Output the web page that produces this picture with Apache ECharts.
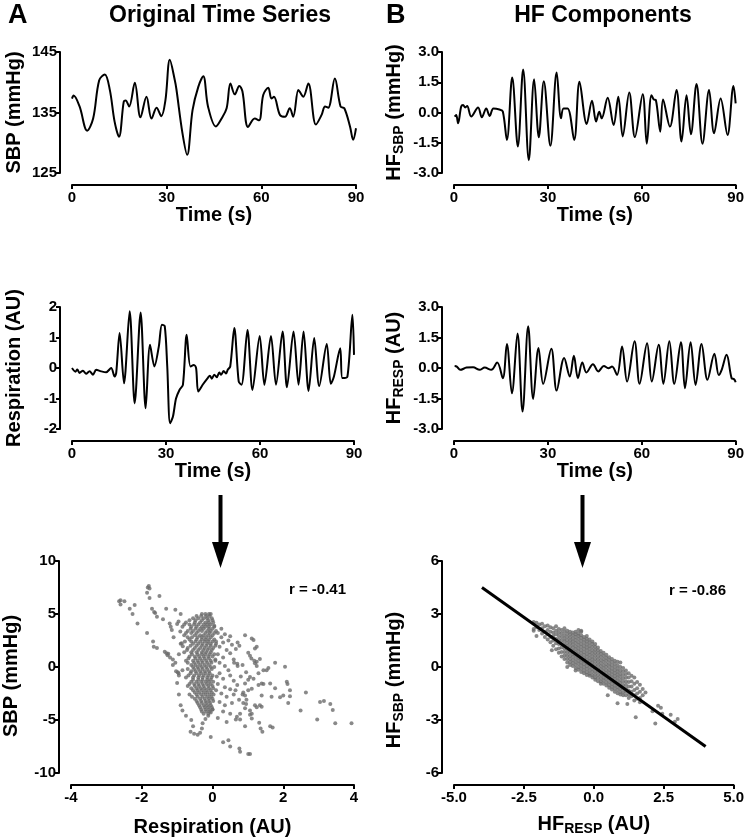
<!DOCTYPE html>
<html>
<head>
<meta charset="utf-8">
<script src="https://cdn.jsdelivr.net/npm/echarts@6/dist/echarts.min.js"></script>
<style>
html, body { margin: 0; padding: 0; background: #fff; }
#chart { width: 747px; height: 840px; }
</style>
</head>
<body>
<div id="chart"></div>
<script>
// time series, [time (s), value]
const sbpSeries = [
  [0,137.3],[0.5,137.8],[2.4,136],[4.8,132],[6.7,134],[8.6,140.3],[10.4,141.3],[12,138.7],[13.5,133.5],
  [14.9,131],[16.4,136.8],[17,137],[18.1,136],[19.9,139.9],[21.7,134.2],[23.6,137.6],[25.2,134],
  [26.8,135.8],[28.3,134.4],[29.6,137],[31,143.7],[32.6,140.3],[33.1,138.8],[35,131.6],[36.5,128],
  [38.2,135.4],[40,139.2],[41.6,141],[43.1,136],[45.6,132.7],[47.4,134],[49,135.7],[50.2,139.8],
  [51.6,138],[53,139.4],[54,138.5],[55.8,132.6],[57.9,134],[59.3,133.7],[60.6,137.9],[62.2,139.1],
  [63.2,137.3],[64,137.6],[65.9,134.6],[67.5,134.3],[69,135.7],[70.1,134.3],[71.7,138.7],[72.2,138.4],
  [73.3,137.6],[74.9,139.8],[77.3,133],[79.1,134.6],[80.2,136],[81.2,135.8],[83.3,140.6],[85.1,136],
  [86.3,135.7],[88.1,132.7],[89.1,130.5],[90,132.4]
]
const hfSbpSeries = [
  [0.2,-0.2],[0.7,-0.12],[1.3,-0.53],[2.3,0.3],[2.9,0.37],[3.6,0.25],[4.2,0.32],[5.5,-0.2],[7.7,0.25],
  [8.9,-0.24],[10.3,0.2],[11.4,-0.17],[12.6,0.2],[14.5,0.15],[15.6,0.05],[16.9,-1.36],[18.6,1.73],
  [20.4,-1.68],[22.1,2.13],[23.9,-2.37],[25.6,1.65],[27.1,-1.23],[28.7,1.55],[30.8,-1.65],[32.8,1.98],
  [34.2,-0.29],[35,0.2],[36.3,0.2],[38.4,-1.36],[40.1,1.52],[42.4,-0.57],[44.1,0.58],[45.4,-0.45],
  [46.4,0.04],[47.2,-0.29],[49.1,0.73],[51,-0.62],[52.5,0.78],[53.9,-1.19],[56,0.99],[57.8,-1.22],
  [60.3,0.91],[61.6,-1.55],[63.1,0.86],[63.8,0.65],[64.5,0.62],[65.9,-0.95],[66.8,0.65],[69,-0.7],
  [71.1,1.11],[72.7,-1.44],[74.3,0.86],[75.7,-1.08],[77.5,1.41],[79.4,-1.55],[81.5,1.11],[83.1,-1.03],
  [85.2,0.7],[87.4,-1.11],[89.3,1.32],[90,0.45]
]
const respSeries = [
  [0,0],[1.1,-0.12],[1.7,-0.05],[2.4,-0.16],[3.5,-0.09],[4.5,-0.19],[5.6,-0.11],[6.7,-0.22],[7.7,-0.06],
  [9.3,-0.11],[10.9,-0.14],[12.5,0],[13.6,-0.28],[14.1,-0.17],[15.2,1.15],[16.6,-0.5],[18.4,1.86],
  [20,-1.16],[21.9,1.82],[23.5,-1.32],[24.9,0.76],[26.3,0.05],[27.7,0.7],[28.7,1.42],[29.6,1.37],
  [30.4,0.05],[31.3,-1.81],[32.2,-1.6],[33.2,-1.0],[34.3,-0.72],[35.4,-0.55],[36.6,1.09],[37.8,0.05],
  [38.9,0.1],[39.6,0],[40.3,-0.77],[41.7,-0.55],[43.3,-0.33],[44,-0.25],[44.6,-0.35],[45.4,-0.22],
  [46.2,-0.3],[47,-0.15],[47.6,-0.22],[48.4,-0.1],[49.2,-0.18],[49.7,-0.06],[50.5,0.05],[51.8,1.31],
  [53.2,-0.44],[54.1,-0.55],[56,1.25],[57.6,-0.72],[59.9,1.05],[61.4,-0.55],[63.5,1.05],[65.1,-0.55],
  [67.2,1.2],[68.6,-0.63],[70.7,1.2],[72.3,-0.55],[73.9,1.2],[75.5,-0.75],[77.3,0.98],[78.9,-0.59],
  [81.3,0.79],[82.6,-0.52],[83.6,-0.28],[85.6,0.65],[86.3,-0.33],[87.9,-0.28],[89.5,1.75],[90,0.43]
]
const hfRespSeries = [
  [0.2,0.1],[0.9,0.07],[2,-0.09],[4,0.02],[6.1,0.04],[8.2,-0.09],[9.8,0.02],[11.9,-0.09],[13.8,0.27],
  [15.6,-0.5],[16.9,1.18],[18.5,-1.24],[20.3,1.7],[21.9,-2.14],[23.7,2.05],[25.3,-1.52],[27,0.98],
  [28.5,-0.78],[31.1,0.95],[32.8,-1.11],[35.2,0.49],[37,-0.42],[38.3,0.6],[39.6,-0.5],[41,0.27],
  [42.3,-0.22],[44.4,0.19],[46.1,-0.17],[47.9,0.1],[49.3,-0.01],[50.5,0.07],[52.1,-0.34],[53.7,1.06],
  [55.3,-0.67],[57.7,1.31],[59.3,-0.78],[61.7,1.22],[63.2,-0.67],[65.4,1.14],[66.9,-0.78],[68.8,1.31],
  [70.4,-0.78],[72.5,1.27],[73.8,-0.99],[75.6,1.27],[77.2,-0.83],[79.1,1.18],[81,-0.58],[83.2,0.7],
  [84.6,-0.34],[85.5,-0.1],[87.1,0.65],[88.7,-0.5],[89.5,-0.55],[90,-0.7]
]

// scatter A, dense core as rows: [SBP, respiration values...]
const respSbpCore = [
  [5.0, -0.3, -0.2, -0.1, -0.05],
  [4.8, -0.45, -0.32, -0.18, -0.08],
  [4.6, -0.55, -0.4, -0.25, -0.15, -0.02],
  [4.4, -0.65, -0.48, -0.3, -0.12, 0.0],
  [4.2, -0.75, -0.5, -0.35, -0.2, -0.1, 0.02],
  [4.0, -0.8, -0.65, -0.52, -0.4, -0.25, -0.15, -0.05],
  [3.8, -0.85, -0.6, -0.45, -0.3, -0.2, -0.1, 0.05],
  [3.6, -0.62, -0.48, -0.35, -0.25, -0.1, 0.0],
  [3.4, -0.7, -0.55, -0.4, -0.3, -0.15, -0.05, 0.1],
  [3.2, -0.75, -0.6, -0.45, -0.2, -0.08, 0.05],
  [3.0, -0.8, -0.5, -0.35, -0.25, -0.12, 0.0],
  [2.8, -0.7, -0.58, -0.42, -0.3, -0.18, -0.05],
  [2.6, -0.65, -0.45, -0.3, -0.2, -0.1, 0.05],
  [2.4, -0.78, -0.6, -0.48, -0.35, -0.22, -0.12, 0.0],
  [2.2, -0.9, -0.55, -0.4, -0.28, -0.15, -0.05, 0.1],
  [2.0, -0.62, -0.45, -0.3, -0.18, -0.05, 0.08],
  [1.8, -0.7, -0.5, -0.35, -0.22, -0.1, 0.02],
  [1.6, -0.72, -0.55, -0.4, -0.26, -0.14, -0.02],
  [1.4, -0.8, -0.6, -0.45, -0.3, -0.18, -0.05],
  [1.2, -0.58, -0.42, -0.3, -0.2, -0.08, 0.05],
  [1.0, -0.65, -0.5, -0.38, -0.25, -0.12, 0.0],
  [0.8, -0.68, -0.48, -0.35, -0.22, -0.1],
  [0.6, -0.75, -0.55, -0.42, -0.3, -0.18, -0.05, 0.08],
  [0.4, -0.7, -0.52, -0.4, -0.28, -0.15, -0.03],
  [0.2, -0.6, -0.48, -0.35, -0.22, -0.1],
  [0.0, -0.55, -0.42, -0.3, -0.18, -0.05, 0.05],
  [-0.2, -0.7, -0.52, -0.4, -0.28, -0.15, -0.02],
  [-0.4, -0.6, -0.48, -0.35, -0.22, -0.1],
  [-0.6, -0.62, -0.45, -0.32, -0.2, -0.08],
  [-0.8, -0.68, -0.52, -0.38, -0.25, -0.12, 0.0],
  [-1.0, -0.75, -0.55, -0.4, -0.28, -0.15, -0.03],
  [-1.2, -0.55, -0.4, -0.28, -0.15, -0.05],
  [-1.4, -0.6, -0.45, -0.32, -0.2, -0.1, 0.02],
  [-1.6, -0.65, -0.52, -0.4, -0.28, -0.16, -0.05],
  [-1.8, -0.7, -0.5, -0.38, -0.25, -0.12, 0.0],
  [-2.0, -0.6, -0.45, -0.33, -0.22, -0.1, 0.02],
  [-2.2, -0.55, -0.42, -0.3, -0.18, -0.06],
  [-2.4, -0.5, -0.38, -0.25, -0.14, -0.02],
  [-2.6, -0.65, -0.45, -0.32, -0.2, -0.08, 0.03],
  [-2.8, -0.58, -0.42, -0.28, -0.15, -0.04],
  [-3.0, -0.5, -0.35, -0.22, -0.1, 0.0],
  [-3.2, -0.45, -0.32, -0.2, -0.1, 0.02],
  [-3.4, -0.42, -0.3, -0.18, -0.07],
  [-3.6, -0.38, -0.25, -0.15, -0.05],
  [-3.8, -0.35, -0.22, -0.12, -0.02],
  [-4.0, -0.32, -0.2, -0.1, 0.0],
  [-4.2, -0.3, -0.18, -0.08],
  [-4.4, -0.25, -0.12]
]
// scatter A, sparse points: [respiration, SBP]
const respSbpSparse = [
  [-2.64,6.2],[-2.6,6.3],[-2.49,6.2],[-2.6,5.9],[-2.34,5.5],[-2.2,5.85],[-2.26,5.0],[-2.12,4.1],[-1.85,3.2],
  [-1.85,7.0],[-1.83,7.5],[-1.8,7.65],[-1.78,7.4],[-1.78,6.5],[-1.5,6.7],[-1.71,5.5],[-1.65,5.2],[-1.62,5.1],
  [-1.57,4.75],[-1.4,4.5],[-1.68,2.4],[-1.66,1.9],[-1.57,1.8],[-1.31,5.5],[-1.21,4.1],[-1.18,3.8],[-1.15,3.5],
  [-1.05,5.4],[-1.35,1.45],[-1.3,1.3],[-1.27,1.1],[-1.2,0.9],[-1.12,0.7],[-1.25,1.25],[-1.0,4.05],[-0.96,4.3],
  [-0.91,3.35],[-0.87,2.25],[-0.84,1.95],[-1.12,0.2],[-1.03,-0.4],[-0.96,-0.6],[-0.9,5.0],[-1.1,2.8],[-0.95,1.2],
  [0.15,3.2],[0.25,2.8],[0.35,3.1],[0.5,2.9],[0.3,2.3],[0.45,2.5],[0.2,1.9],[0.4,1.6],[0.55,2.1],[0.15,1.2],
  [0.3,0.9],[0.5,1.3],[0.6,0.7],[0.2,0.4],[0.35,0.1],[0.45,-0.3],[0.2,-0.6],[0.3,-1.1],[0.5,-0.8],[0.6,-1.3],
  [0.15,-1.6],[0.35,-1.9],[0.5,-2.1],[0.7,-1.7],[0.25,-2.5],[0.4,-2.8],[0.6,-2.6],[0.75,-3.1],[0.2,-3.3],
  [0.35,-3.6],[0.55,-3.4],[0.3,-4.2],[0.5,-4.4],[0.15,-4.8],[0.4,-5.2],[0.1,-2.2],[0.12,-0.9],[0.08,0.7],
  [0.1,2.4],[0.05,3.9],[0.25,3.6],[0.85,0.2],[0.95,-0.5],[0.7,0.3],[0.8,-0.9],[0.65,-2.2],[0.85,-2.6],[0.95,-3.5],
  [1.77,0.4],[2.05,0.03],[2.1,-1.4],[2.12,-1.6],[2.19,-2.2],[2.19,-2.75],[2.14,-3.4],[2.64,-2.4],[2.49,-4.1],
  [3.04,-3.3],[3.15,-3.2],[3.33,-3.5],[3.4,-4.05],[2.96,-4.95],[3.47,-5.3],[3.93,-5.3],[1.7,-5.7],[1.63,-5.6],
  [1.36,-5.8],[1.41,-6.1],[1.32,-5.25],[1.11,-4.85],[1.06,-4.5],[0.92,-5.6],[0.66,-4.95],[0.78,-4.95],
  [0.76,-7.7],[0.78,-8.0],[1.01,-8.2],[1.06,-8.2],[0.5,-7.5],[1.34,-3.6],[1.39,-3.75],[1.67,-2.8],[1.91,-2.85],
  [2.0,-2.7],[1.77,-2.0],[1.39,-2.7],[1.53,-0.3],[1.58,-0.1],[1.3,-1.7],[1.39,-1.55],[1.44,-1.6],[1.63,-1.55],
  [1.2,0.35],[1.25,0.1],[1.34,0.75],[1.1,0.8],[1.18,0.6],[1.25,0.5],[1.44,-0.3],[1.3,-0.6],[1.06,-0.95],
  [1.16,-1.1],[0.92,-1.55],[1.01,-1.2],[1.01,-2.2],[0.87,-2.4],[1.11,-2.05],[0.92,-2.7],[1.2,-3.6],[1.25,-3.8],
  [0.87,-3.4],[0.96,-3.1],[0.92,-3.9],[0.78,-4.4],[0.69,-4.7],[1.11,-4.4],[1.06,-4.1],[1.11,2.7],[1.16,2.55],
  [0.92,3.0],[1.25,1.9],[1.2,1.75],[0.71,2.3],[0.76,2.0],[0.66,1.7],[1.01,1.35],[1.06,1.05],[0.61,0.4],[0.71,0.1],
  [-0.85,-4.1],[-0.75,-4.6],[-0.6,-5.0],[-0.55,-5.6],[-0.62,-6.1],[-0.52,-6.3],[-0.42,-6.4],[-0.35,-6.2],
  [-0.3,-5.8],[-0.28,-5.3],[-0.2,-4.9],[-0.12,-4.6],[-0.05,-4.3],[0.0,-4.0],[-0.05,-6.6],[0.3,-7.1],[0.45,-6.9],
  [-0.9,-3.6],[-0.95,-2.6],[-1.0,-1.5],[-0.95,-0.8],[-0.85,-0.3],[-1.05,0.4],[-0.98,-0.5]
]

// scatter B, columns: [HF resp, HF SBP values...]
const hfCols = [
  [-2.15, 2.55, 2.05],
  [-2.05, 2.5, 2.25, 1.75],
  [-1.95, 2.4, 2.1],
  [-1.85, 2.45, 2.2, 1.9],
  [-1.75, 2.3, 2.0, 1.7],
  [-1.65, 2.35, 2.1, 1.85, 1.55],
  [-1.55, 2.25, 2.0, 1.7, 1.4],
  [-1.45, 2.2, 1.95, 1.75, 1.5, 1.2],
  [-1.35, 2.3, 2.05, 1.85, 1.6, 1.35, 1.0],
  [-1.25, 2.15, 1.95, 1.75, 1.55, 1.3, 1.05, 0.8],
  [-1.15, 2.1, 1.9, 1.7, 1.5, 1.3, 1.1, 0.85, 0.6],
  [-1.05, 2.2, 2.0, 1.8, 1.62, 1.45, 1.25, 1.05, 0.85, 0.65, 0.45],
  [-0.95, 2.05, 1.88, 1.7, 1.52, 1.35, 1.17, 1.0, 0.82, 0.64, 0.45, 0.25],
  [-0.85, 2.0, 1.84, 1.67, 1.5, 1.33, 1.15, 0.98, 0.8, 0.62, 0.45, 0.28, 0.12],
  [-0.75, 1.95, 1.8, 1.62, 1.45, 1.28, 1.1, 0.92, 0.75, 0.58, 0.4, 0.22, 0.05],
  [-0.65, 2.0, 1.85, 1.7, 1.53, 1.36, 1.18, 1.0, 0.83, 0.66, 0.48, 0.3, 0.13, -0.05, -0.2],
  [-0.55, 1.9, 1.75, 1.58, 1.4, 1.23, 1.05, 0.88, 0.7, 0.53, 0.35, 0.18, 0.0, -0.15],
  [-0.45, 2.0, 1.8, 1.65, 1.48, 1.3, 1.13, 0.95, 0.78, 0.6, 0.43, 0.25, 0.08, -0.1, -0.28],
  [-0.35, 1.7, 1.55, 1.38, 1.2, 1.03, 0.85, 0.68, 0.5, 0.33, 0.15, -0.02, -0.2, -0.35],
  [-0.25, 1.75, 1.6, 1.45, 1.28, 1.1, 0.93, 0.75, 0.58, 0.4, 0.23, 0.05, -0.12, -0.3, -0.45],
  [-0.15, 1.55, 1.38, 1.2, 1.03, 0.85, 0.68, 0.5, 0.33, 0.15, -0.02, -0.2, -0.38, -0.5],
  [-0.05, 1.45, 1.3, 1.13, 0.95, 0.78, 0.6, 0.43, 0.25, 0.08, -0.1, -0.27, -0.45, -0.6],
  [0.05, 1.3, 1.15, 0.98, 0.8, 0.63, 0.45, 0.28, 0.1, -0.07, -0.25, -0.42, -0.6, -0.72],
  [0.15, 1.1, 0.95, 0.78, 0.6, 0.43, 0.25, 0.08, -0.1, -0.27, -0.45, -0.62, -0.8],
  [0.25, 0.9, 0.75, 0.58, 0.4, 0.23, 0.05, -0.12, -0.3, -0.47, -0.65, -0.82, -0.95],
  [0.35, 0.8, 0.63, 0.45, 0.28, 0.1, -0.07, -0.25, -0.42, -0.6, -0.77, -0.95],
  [0.45, 0.7, 0.52, 0.35, 0.17, 0.0, -0.18, -0.35, -0.53, -0.7, -0.88, -1.05],
  [0.55, 0.55, 0.38, 0.2, 0.03, -0.15, -0.32, -0.5, -0.67, -0.85, -1.02, -1.18],
  [0.65, 0.45, 0.28, 0.1, -0.08, -0.25, -0.43, -0.6, -0.78, -0.95, -1.12, -1.28],
  [0.75, 0.35, 0.18, 0.0, -0.18, -0.35, -0.53, -0.7, -0.88, -1.05, -1.22, -1.4],
  [0.85, 0.3, 0.1, -0.08, -0.25, -0.43, -0.6, -0.78, -0.95, -1.13, -1.3, -1.48],
  [0.95, 0.25, 0.0, -0.2, -0.38, -0.55, -0.73, -0.9, -1.08, -1.25, -1.42, -1.55],
  [1.05, -0.05, -0.25, -0.45, -0.65, -0.85, -1.05, -1.25, -1.45, -1.6],
  [1.15, -0.2, -0.4, -0.6, -0.8, -1.0, -1.2, -1.4, -1.6],
  [1.25, -0.35, -0.6, -0.85, -1.1, -1.35, -1.55, -1.75],
  [1.35, -0.5, -0.8, -1.1, -1.4, -1.65],
  [1.45, -0.6, -0.95, -1.3, -1.6, -1.9],
  [1.55, -0.85, -1.2, -1.5, -1.8],
  [1.65, -1.0, -1.4, -1.75, -2.0],
  [1.75, -1.25, -1.6]
]
const hfSparse = [
  [1.85,-1.45],[2.2,-3.2],[2.3,-2.2],[2.4,-2.3],[2.45,-2.65],[2.75,-2.7],[2.9,-3.1],[3.0,-2.95],[1.5,-2.85],
  [0.85,-2.05],[1.2,-2.1],[0.5,-1.6],[-0.55,2.1],[-0.45,2.05],[-2.15,2.15],[-0.95,0.0],[-1.5,0.95],[2.1,-2.5]
]
const fitLine = [[-4, 4.5], [4, -4.5]]

const scatterA = []
respSbpCore.forEach(row => row.slice(1).forEach(x => scatterA.push([x, row[0]])))
respSbpSparse.forEach(p => scatterA.push(p))
const scatterB = []
hfCols.forEach(col => col.slice(1).forEach(y => scatterB.push([col[0], y])))
hfSparse.forEach(p => scatterB.push(p))

const FONT = 'Liberation Sans, Arial, sans-serif'
const nameStyle = {
  fontSize: 20, fontWeight: 'bold', color: '#000', fontFamily: FONT,
  rich: {
    m: { fontSize: 20, fontWeight: 'bold', color: '#000', fontFamily: FONT, lineHeight: 24 },
    s: { fontSize: 14, fontWeight: 'bold', color: '#000', fontFamily: FONT, lineHeight: 12, verticalAlign: 'bottom' },
    g1: { width: 18, lineHeight: 24 },
    g2: { width: 26, lineHeight: 24 }
  }
}

function axis(grid, min, max, interval, name, gap, extra) {
  return Object.assign({
    type: 'value', gridIndex: grid, min: min, max: max, interval: interval,
    offset: 12, name: name, nameLocation: 'middle', nameGap: gap,
    nameTextStyle: nameStyle,
    axisLine: { show: true, onZero: false, lineStyle: { color: '#000', width: 2 } },
    axisTick: { show: true, length: 4, lineStyle: { color: '#000', width: 2 } },
    axisLabel: { color: '#000', fontSize: 15, fontWeight: 'bold', fontFamily: FONT, margin: 3 },
    splitLine: { show: false }
  }, extra || {})
}
const oneDec = v => v.toFixed(1)
function lbl(formatter, margin) {
  return { axisLabel: { color: '#000', fontSize: 15, fontWeight: 'bold', fontFamily: FONT, margin: margin || 3, formatter: formatter } }
}
const xLbl = { axisLabel: { color: '#000', fontSize: 15, fontWeight: 'bold', fontFamily: FONT, margin: 5 } }

const option = {
  backgroundColor: '#fff',
  animation: false,
  grid: [
    { left: 72, top: 52, width: 284, height: 121 },
    { left: 454, top: 52, width: 283, height: 121 },
    { left: 72, top: 307, width: 282, height: 122 },
    { left: 454, top: 307, width: 284, height: 122 },
    { left: 71, top: 561, width: 283, height: 212 },
    { left: 454, top: 561, width: 284, height: 212 }
  ],
  xAxis: [
    axis(0, 0, 90, 30, 'Time (s)', 20, xLbl),
    axis(1, 0, 90, 30, 'Time (s)', 20, xLbl),
    axis(2, 0, 90, 30, 'Time (s)', 20, xLbl),
    axis(3, 0, 90, 30, 'Time (s)', 20, xLbl),
    axis(4, -4, 4, 2, 'Respiration (AU)', 32, xLbl),
    axis(5, -5, 5, 2.5, '{m|HF}{s|RESP}{m| (AU)}', 27, lbl(oneDec, 5))
  ],
  yAxis: [
    axis(0, 125, 145, 10, 'SBP (mmHg)', 36),
    axis(1, -3, 3, 1.5, '{m|HF}{s|SBP}{m| (mmHg)}', 36, lbl(oneDec)),
    axis(2, -2, 2, 1, 'Respiration (AU)', 36),
    axis(3, -3, 3, 1.5, '{m|HF}{s|RESP}{m| (AU)}', 36, lbl(oneDec)),
    axis(4, -10, 10, 5, '{m|SBP (mmHg)}{g1|}', 36),
    axis(5, -6, 6, 3, '{m|HF}{s|SBP}{m| (mmHg)}{g2|}', 36)
  ],
  series: [
    { type: 'line', xAxisIndex: 0, yAxisIndex: 0, data: sbpSeries, smooth: 0.35, showSymbol: false, lineStyle: { color: '#000', width: 2 } },
    { type: 'line', xAxisIndex: 1, yAxisIndex: 1, data: hfSbpSeries, smooth: 0.35, showSymbol: false, lineStyle: { color: '#000', width: 2 } },
    { type: 'line', xAxisIndex: 2, yAxisIndex: 2, data: respSeries, smooth: 0.3, showSymbol: false, lineStyle: { color: '#000', width: 2 } },
    { type: 'line', xAxisIndex: 3, yAxisIndex: 3, data: hfRespSeries, smooth: 0.35, showSymbol: false, lineStyle: { color: '#000', width: 2 } },
    { type: 'scatter', xAxisIndex: 4, yAxisIndex: 4, data: scatterA, symbolSize: 4, itemStyle: { color: '#6b6b6b' } },
    { type: 'scatter', xAxisIndex: 5, yAxisIndex: 5, data: scatterB, symbolSize: 4, itemStyle: { color: '#6b6b6b' } },
    { type: 'line', xAxisIndex: 5, yAxisIndex: 5, data: fitLine, showSymbol: false, z: 5, lineStyle: { color: '#000', width: 3 } }
  ],
  graphic: [
    { type: 'text', left: 8, top: 2, style: { text: 'A', fontSize: 27, fontWeight: 'bold', fontFamily: FONT, fill: '#000' } },
    { type: 'text', left: 386, top: 2, style: { text: 'B', fontSize: 27, fontWeight: 'bold', fontFamily: FONT, fill: '#000' } },
    { type: 'text', x: 220, y: 16, style: { text: 'Original Time Series', fontSize: 23, fontWeight: 'bold', fontFamily: FONT, fill: '#000', align: 'center', verticalAlign: 'middle' } },
    { type: 'text', x: 603, y: 16, style: { text: 'HF Components', fontSize: 23, fontWeight: 'bold', fontFamily: FONT, fill: '#000', align: 'center', verticalAlign: 'middle' } },
    { type: 'text', x: 346, y: 590, style: { text: 'r = -0.41', fontSize: 15, fontWeight: 'bold', fontFamily: FONT, fill: '#000', align: 'right', verticalAlign: 'middle' } },
    { type: 'text', x: 726, y: 591, style: { text: 'r = -0.86', fontSize: 15, fontWeight: 'bold', fontFamily: FONT, fill: '#000', align: 'right', verticalAlign: 'middle' } },
    { type: 'rect', shape: { x: 218.5, y: 495, width: 4, height: 50 }, style: { fill: '#000' } },
    { type: 'polygon', shape: { points: [[212, 542], [229, 542], [220.5, 568]] }, style: { fill: '#000' } },
    { type: 'rect', shape: { x: 580.5, y: 495, width: 4, height: 50 }, style: { fill: '#000' } },
    { type: 'polygon', shape: { points: [[574, 542], [591, 542], [582.5, 568]] }, style: { fill: '#000' } }
  ]
}

const myChart = echarts.init(document.getElementById('chart'), null, { renderer: 'canvas' })
myChart.setOption(option)
</script>
</body>
</html>
